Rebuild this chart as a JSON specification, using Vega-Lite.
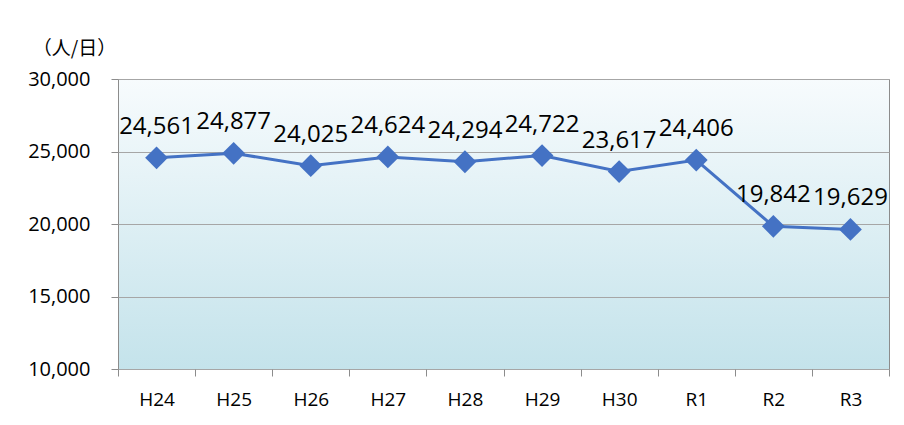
{
  "$schema": "https://vega.github.io/schema/vega-lite/v6.json",
  "width": 771,
  "height": 290,
  "autosize": {"type": "none"},
  "padding": {"left": 118, "top": 79, "right": 15, "bottom": 56},
  "background": "white",
  "config": {
    "font": "Open Sans",
    "view": {
      "stroke": "#8c8c8c",
      "strokeWidth": 1,
      "fill": {
        "gradient": "linear",
        "x1": 0, "y1": 0, "x2": 0, "y2": 1,
        "stops": [
          {"offset": 0, "color": "#f7fbfd"},
          {"offset": 1, "color": "#c4e3eb"}
        ]
      }
    }
  },
  "data": {
    "values": [
      {"year": "H24", "value": 24561},
      {"year": "H25", "value": 24877},
      {"year": "H26", "value": 24025},
      {"year": "H27", "value": 24624},
      {"year": "H28", "value": 24294},
      {"year": "H29", "value": 24722},
      {"year": "H30", "value": 23617},
      {"year": "R1", "value": 24406},
      {"year": "R2", "value": 19842},
      {"year": "R3", "value": 19629}
    ]
  },
  "encoding": {
    "x": {
      "field": "year",
      "type": "nominal",
      "sort": null,
      "scale": {"paddingInner": 0, "paddingOuter": 0},
      "axis": {
        "title": null,
        "labelAngle": 0,
        "labelFontSize": 19,
        "labelColor": "#000000",
        "labelPadding": 14,
        "tickBand": "extent",
        "tickSize": 7,
        "tickColor": "#8c8c8c",
        "domain": false,
        "grid": false
      }
    },
    "y": {
      "field": "value",
      "type": "quantitative",
      "scale": {"domain": [10000, 30000], "nice": false, "zero": false},
      "axis": {
        "title": "（人/日）",
        "titleAngle": 0,
        "titleAlign": "center",
        "titleBaseline": "middle",
        "titleX": -44,
        "titleY": -31,
        "titleFontSize": 19,
        "titleFontWeight": "normal",
        "titleFont": "Noto Sans CJK JP",
        "titleColor": "#000000",
        "values": [10000, 15000, 20000, 25000, 30000],
        "format": ",.0f",
        "labelFontSize": 20,
        "labelColor": "#000000",
        "labelPadding": 21,
        "tickSize": 7,
        "tickColor": "#8c8c8c",
        "domain": false,
        "grid": true,
        "gridColor": "#a6a6a6",
        "gridWidth": 1
      }
    }
  },
  "layer": [
    {
      "mark": {"type": "line", "color": "#4472c4", "strokeWidth": 3}
    },
    {
      "mark": {"type": "point", "shape": "diamond", "filled": true, "size": 520, "color": "#4472c4", "opacity": 1}
    },
    {
      "mark": {"type": "text", "fontSize": 24, "dy": -31, "baseline": "middle", "color": "#000000"},
      "encoding": {
        "text": {"field": "value", "type": "quantitative", "format": ",.0f"}
      }
    }
  ]
}
